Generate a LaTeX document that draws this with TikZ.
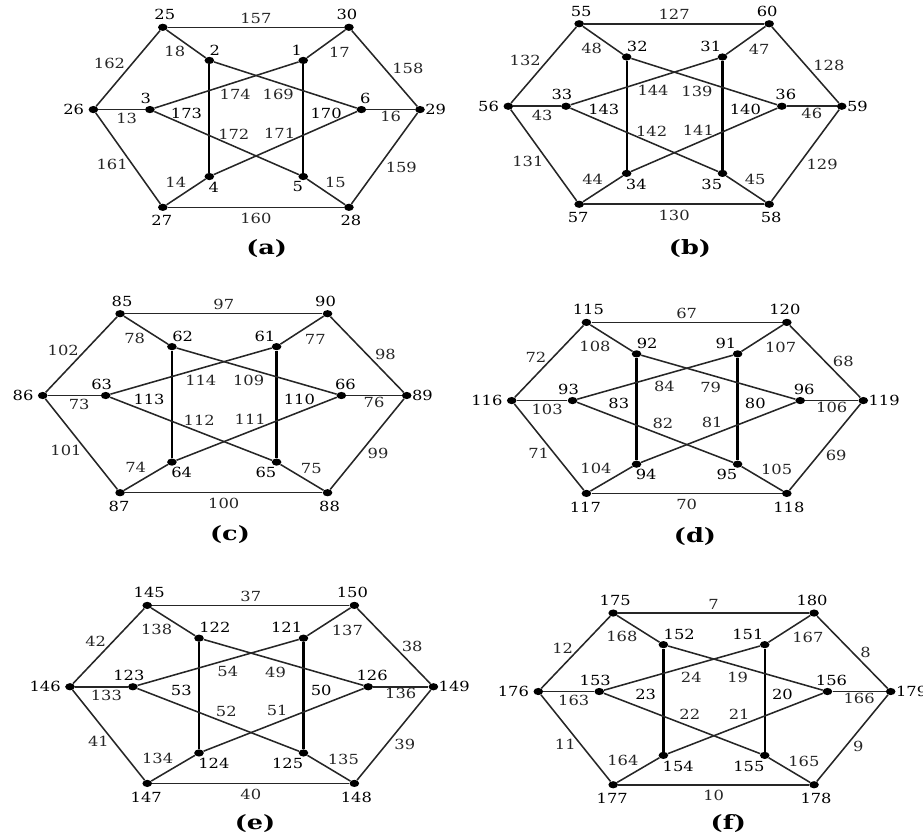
\documentclass[tikz,border=0pt]{standalone}
\usepackage{fontspec}
\setmainfont{DejaVu Serif}
\usetikzlibrary{shapes.geometric}

\tikzset{
  dot/.style={ellipse, fill=black, inner sep=0pt, minimum width=0.24cm, minimum height=0.18cm},
  link/.style={line width=1.1pt, black!85},
  bar/.style={line width=1.6pt, black},
  num/.style={inner sep=0pt, font=\fontsize{9.9}{10}\selectfont, xscale=1.17},
  panelcap/.style={inner sep=0pt, font=\bfseries\fontsize{14}{15}\selectfont, xscale=1.3}
}

% #1 prefix, #2 #3 centre, #4 half width, #5 height, #6 letter, #7 letter position,
% #8 vertex numbers, #9 edge numbers
\newcommand{\hexpanel}[9]{%
  \begin{scope}[shift={(#2,#3)}]
    \foreach \v/\x/\y in {o1/-.575/-.5, o2/.565/-.5, o3/1/-.043, o4/.565/.5, o5/-.575/.5, o6/-1/-.043,
        n1/-.29/-.316, n2/.285/-.316, n3/.641/-.043, n4/.285/.329, n5/-.29/.329, n6/-.654/-.043}
      \node[dot] (#1\v) at ({\x*#4},{\y*#5}) {};
    \foreach \p/\q/\ls/\ps/\an/\dx/\dy [count=\i] in {
        o1/o2/link/.5/south/0/-3, o2/o3/link/.5/west/7/0, o3/o4/link/.6/west/7/0,
        o4/o5/link/.5/north/0/5, o5/o6/link/.43/east/-4/0, o6/o1/link/.56/east/-6/0,
        o1/n1/link/.5/north east/0/2, o2/n2/link/.5/north west/2/3, o6/n6/link/.5/north/5/3,
        n3/o3/link/.5/north/0/1, o5/n5/link/.5/south east/1/-4, o4/n4/link/.5/south west/-2/-3,
        n1/n5/bar/.45/east/-6/0, n2/n4/bar/.45/west/6/0, n6/n2/link/.56/north/0/6,
        n1/n3/link/.45/north/0/6, n6/n4/link/.55/south/0/-6, n5/n3/link/.46/south/0/-6}{
      \pgfmathtruncatemacro{\lab}{{#9}[\i-1]}
      \draw[\ls] (#1\p) -- (#1\q) node[pos=\ps, anchor=\an, shift={(\dx,\dy)}, num] (#1e\i) {\lab};
    }
    \foreach \v/\an/\dx/\dy [count=\i] in {o1/south/2/-7, o2/south/-2/-7, o3/west/5/0,
        o4/north/2/8, o5/north/-1/8, o6/east/-9/0, n1/south west/0/-5, n2/south east/-1/-5,
        n3/south/4/-6, n4/north east/0/5, n5/north west/-1/5, n6/south/-4/-6}{
      \pgfmathtruncatemacro{\lab}{{#8}[\i-1]}
      \node[anchor=\an, shift={(\dx,\dy)}, num] (#1t\i) at (#1\v) {\lab};
    }
  \end{scope}
  \node[panelcap] (#1cap) at #7 {(#6)};
}

\begin{document}
\begin{tikzpicture}[x=0.025cm, y=-0.025cm]
  \useasboundingbox (0,0) rectangle (923,838);
  \hexpanel{a}{256.7}{117.3}{163.3}{180}{a}{(266.7,248.3)}
    {25,30,29,28,27,26,2,1,6,5,4,3}
    {157,158,159,160,161,162,18,17,13,16,14,15,173,170,174,169,172,171}
  \hexpanel{b}{675}{114}{166.7}{180.5}{b}{(690,248.3)}
    {55,60,59,58,57,56,32,31,36,35,34,33}
    {127,128,129,130,131,132,48,47,43,46,44,45,143,140,144,139,142,141}
  \hexpanel{c}{224.7}{403.2}{182}{179}{c}{(230,535)}
    {85,90,89,88,87,86,62,61,66,65,64,63}
    {97,98,99,100,101,102,78,77,73,76,74,75,113,110,114,109,112,111}
  \hexpanel{d}{687.5}{407.9}{175.8}{171}{d}{(695,536.7)}
    {115,120,119,118,117,116,92,91,96,95,94,93}
    {67,68,69,70,71,72,108,107,103,106,104,105,83,80,84,79,82,81}
  \hexpanel{e}{251.7}{694.4}{181.7}{178}{e}{(255,823.3)}
    {145,150,149,148,147,146,122,121,126,125,124,123}
    {37,38,39,40,41,42,138,137,133,136,134,135,53,50,54,49,52,51}
  \hexpanel{f}{714.5}{698.9}{176.2}{171.7}{f}{(728.3,823.3)}
    {175,180,179,178,177,176,152,151,156,155,154,153}
    {7,8,9,10,11,12,168,167,163,166,164,165,23,20,24,19,22,21}
\end{tikzpicture}
\end{document}
